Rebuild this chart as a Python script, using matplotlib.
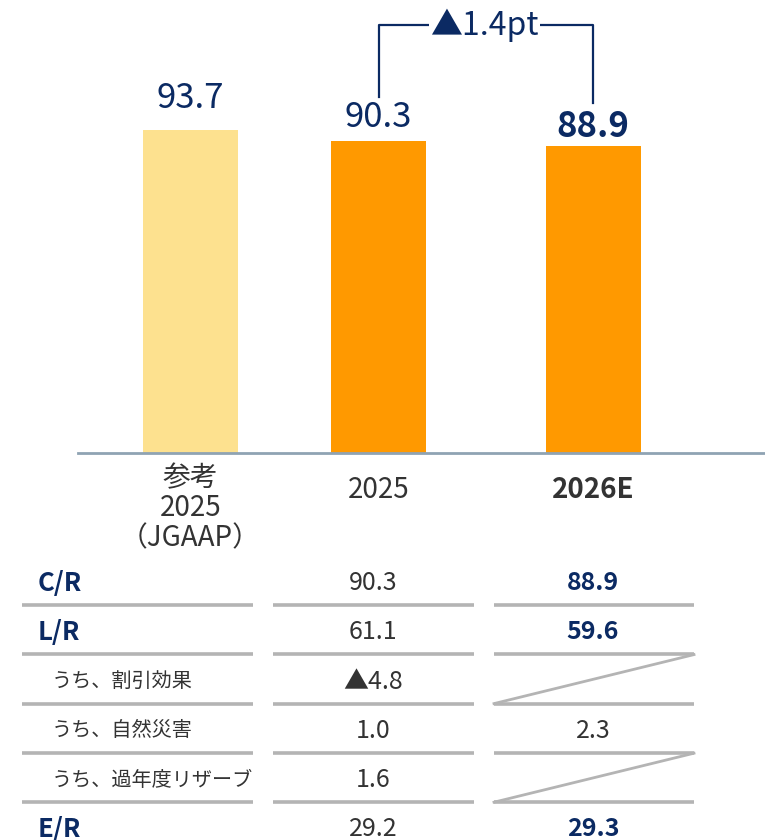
import matplotlib
matplotlib.use("Agg")
import matplotlib.pyplot as plt

plt.rcParams['font.family'] = ['Noto Sans CJK JP', 'DejaVu Sans']

# bar data
categories = ['参考\n2025\n（JGAAP）', '2025', '2026E']
values = [93.7, 90.3, 88.9]
value_labels = ['93.7', '90.3', '88.9']
bar_colors = ['#FDE18F', '#FF9900', '#FF9900']
diff_label = '▲1.4pt'

# table data
row_labels = ['C/R', 'L/R', 'うち、割引効果', 'うち、自然災害', 'うち、過年度リザーブ', 'E/R']
row_main = [True, True, False, False, False, True]
col_2025 = ['90.3', '61.1', '▲4.8', '1.0', '1.6', '29.2']
col_2026 = ['88.9', '59.6', '', '2.3', '', '29.3']

NAVY = '#0B2A63'
DARK = '#333333'
GRAY = '#B4B4B4'

W, H = 765, 840
fig = plt.figure(figsize=(W / 100, H / 100), dpi=100)

# bar chart area (pixel based layout)
base_y = 453
scale = 3.45
ax = fig.add_axes([78 / W, 1 - base_y / H, 1 - 78 / W, base_y / H])
xpos = [190.5, 378.5, 593]
ax.bar(xpos, values, width=95, color=bar_colors)
ax.set_xlim(78, 765)
ax.set_ylim(0, base_y / scale)
for s in ['top', 'right', 'left']:
    ax.spines[s].set_visible(False)
ax.spines['bottom'].set_color('#8FA3B3')
ax.spines['bottom'].set_linewidth(2)
ax.set_xticks([])
ax.set_yticks([])

# label centre above bar top, in px
offsets = [31, 24, 20]
for i, (x, v, lab) in enumerate(zip(xpos, values, value_labels)):
    ax.annotate(lab, (x, v), xytext=(0, offsets[i] * 0.72), textcoords='offset points',
                ha='center', va='center', fontsize=25, color=NAVY,
                fontweight='bold' if i == 2 else 'normal')

# bracket showing the change
top = 124
ax.plot([xpos[1], xpos[1], xpos[2], xpos[2]],
        [values[1] + 12.9, top, top, values[2] + 12.5], color=NAVY, lw=1.6)
ax.text((xpos[1] + xpos[2]) / 2 - 1.5, top, diff_label, ha='center', va='center',
        fontsize=23, color=NAVY,
        bbox=dict(facecolor='white', edgecolor='none', pad=1))


def px(x, y):
    return x / W, 1 - y / H


# category labels
cat_y = [508, 490, 490]
for i, (x, c) in enumerate(zip(xpos, categories)):
    fig.text(*px(x, cat_y[i]), c, ha='center', va='center', fontsize=20, color=DARK,
             fontweight='bold' if i == 2 else 'normal', linespacing=1.0)

# table
tab = fig.add_axes([0, 0, 1, 1])
tab.set_xlim(0, W)
tab.set_ylim(H, 0)
tab.axis('off')

row_y0 = 583
row_h = 49.3
for i, lab in enumerate(row_labels):
    y = row_y0 + i * row_h
    if row_main[i]:
        tab.text(38, y, lab, ha='left', va='center', fontsize=18.5, color=NAVY, fontweight='bold')
    else:
        tab.text(52, y, lab, ha='left', va='center', fontsize=14.5, color=DARK)
    tab.text(373, y, col_2025[i], ha='center', va='center', fontsize=18, color=DARK)
    if col_2026[i]:
        tab.text(593, y, col_2026[i], ha='center', va='center', fontsize=18,
                 color=NAVY if row_main[i] else DARK,
                 fontweight='bold' if row_main[i] else 'normal')
    if i < len(row_labels) - 1:
        ly = y + 22
        for x0, x1 in [(22, 253), (273, 474), (494, 694)]:
            tab.plot([x0, x1], [ly, ly], color=GRAY, lw=2.6, solid_capstyle='butt')
    if col_2026[i] == '':
        # diagonal slash for empty cells
        tab.plot([494, 694], [y + 22, y - 27], color=GRAY, lw=2)

fig.savefig('out.png', dpi=100)
